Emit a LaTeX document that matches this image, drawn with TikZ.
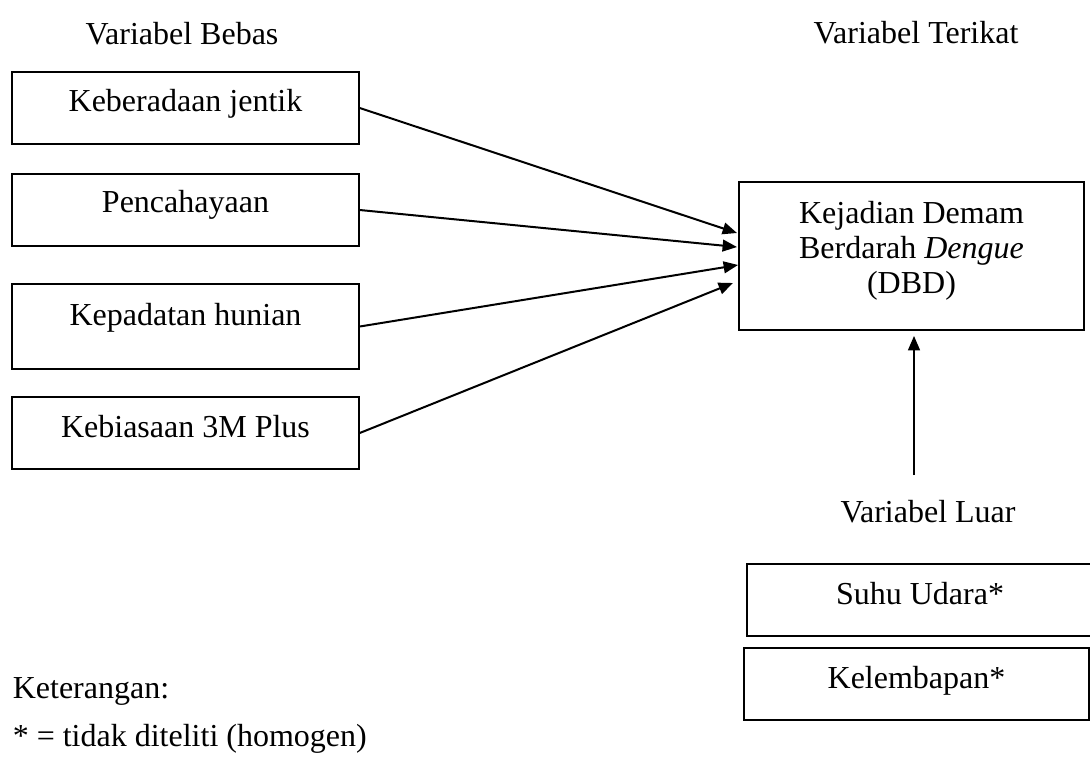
\documentclass[tikz,border=0pt,12pt]{standalone}
\usepackage{fontspec}
\setmainfont{Liberation Serif}
\usetikzlibrary{arrows.meta}
\begin{document}
\begin{tikzpicture}[x=0.375pt, y=-0.375pt, line width=0.6pt,
  >={Triangle[length=5.4pt, width=4.4pt]},
  kotak/.style={draw, inner sep=0pt, minimum width=130.1pt, minimum height=27pt},
  teks/.style={text height=8.2pt, text depth=#1}, teks/.default=5.4pt,
  panah/.style={->, line width=0.75pt}]
  \useasboundingbox (0,0) rectangle (1090,758);
  % variabel bebas
  \node[anchor=base] (bebas) at (182,44.5) {Variabel Bebas};
  \node[kotak, teks] (jentik) at (185.5,108) {Keberadaan jentik};
  \node[kotak, teks=6pt] (cahaya) at (185.5,210) {Pencahayaan};
  \node[kotak, teks=9.3pt, minimum height=31.9pt] (hunian) at (185.5,326.5) {Kepadatan hunian};
  \node[kotak, teks=4.5pt] (tigam) at (185.5,433) {Kebiasaan 3M Plus};
  % variabel terikat
  \node[anchor=base] (terikat) at (916,43.5) {Variabel Terikat};
  \node[kotak, minimum width=129.4pt, minimum height=55.5pt, align=center,
        font=\fontsize{12}{13.1}\selectfont] (dbd) at (911.5,256)
        {Kejadian Demam\\Berdarah \textit{Dengue}\\(DBD)\rule[-6.7pt]{0pt}{0pt}};
  % panah ke DBD
  \coordinate (m1) at (737,233);
  \coordinate (m2) at (737,247);
  \coordinate (m3) at (738,265);
  \coordinate (m4) at (733,283);
  \draw[panah] (jentik.east) -- (m1);
  \draw[panah] (cahaya.east) -- (m2);
  \draw[panah] (hunian.east) -- (m3);
  \draw[panah] (tigam.east) -- (m4);
  % variabel luar
  \coordinate (bawah) at (914,475);
  \draw[panah, shorten >=1.9pt] (bawah) -- (bawah |- dbd.south);
  \node[anchor=base] (luar) at (928,522) {Variabel Luar};
  \node[kotak, teks=5pt, minimum width=129.75pt, minimum height=26.9pt] (suhu) at (920,600) {Suhu Udara*};
  \node[kotak, teks=5.2pt, minimum width=129.4pt] (lembap) at (916.5,684) {Kelembapan*};
  % keterangan
  \node[anchor=base west, inner sep=0pt] (ket) at (12,698) {Keterangan:};
  \node[anchor=base west, inner sep=0pt] (catatan) at (12,746) {* = tidak diteliti (homogen)};
\end{tikzpicture}
\end{document}
